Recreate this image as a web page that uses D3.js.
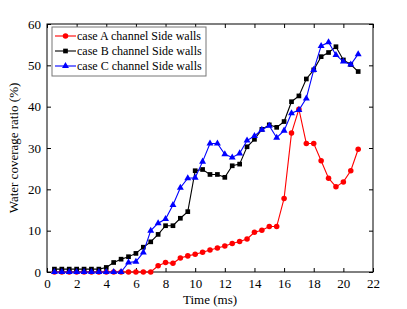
<!DOCTYPE html>
<html>
<head>
<meta charset="utf-8">
<script src="https://cdn.jsdelivr.net/npm/d3@7"></script>
<style>
  body { margin: 0; background: #fff; }
  svg { font-family: "Liberation Serif", "Times New Roman", serif; }
</style>
</head>
<body>
<svg id="chart"></svg>
<script>
const times = [0.5,1,1.5,2,2.5,3,3.5,4,4.5,5,5.5,6,6.5,7,7.5,8,8.5,9,9.5,10,10.5,11,11.5,12,12.5,13,13.5,14,14.5,15,15.5,16,16.5,17,17.5,18,18.5,19,19.5,20,20.5,21]
const caseA = [0,0,0,0,0,0,0,0,0,0,0,0,0,0,1.5,2.3,2.1,3.4,3.9,4.3,4.8,5.3,5.8,6.3,6.9,7.4,8.0,9.6,10.1,11,11,17.8,33.6,39.4,31.1,31.1,26.9,22.7,20.6,21.8,24.5,29.7]
const caseB = [0.7,0.7,0.7,0.7,0.7,0.7,0.7,1.1,2.3,3.1,3.7,4.5,6,7.3,9.1,11.2,11.2,13,14.6,24.5,24.8,23.6,23.6,22.9,25.7,26.1,30.3,32.1,34.5,35.6,35,36.4,41.2,42.6,46.7,48.9,52.1,53.1,54.5,51.3,50.2,48.5]
const caseC = [0,0,0,0,0,0,0,0,0,0,2.3,2.5,4.7,10,11.8,12.8,16.2,20.4,22.7,22.8,26.7,31.1,31.1,28.5,27.7,28.7,31.8,32.9,34.4,35.4,32.5,34.2,38.4,39.2,42,48.9,54.7,55.6,52.5,50.9,50.2,52.7]
const seriesNames = ["case A channel Side walls", "case B channel Side walls", "case C channel Side walls"]
const xTicks = d3.range(0, 23, 2)
const yTicks = d3.range(0, 61, 10)

const W = 407, H = 309
const margin = {top: 24, right: 34, bottom: 37, left: 47}
const width = W - margin.left - margin.right
const height = H - margin.top - margin.bottom

const svg = d3.select("#chart").attr("width", W).attr("height", H)
const g = svg.append("g").attr("transform", `translate(${margin.left},${margin.top})`)

const x = d3.scaleLinear().domain([0, 22]).range([0, width])
const y = d3.scaleLinear().domain([0, 60]).range([height, 0])

// axes, ticks inward on all sides
const tick = 4
g.append("g").attr("transform", `translate(0,${height})`)
  .call(d3.axisBottom(x).tickValues(xTicks).tickSizeInner(-tick).tickSizeOuter(0).tickPadding(7))
g.append("g").call(d3.axisTop(x).tickValues(xTicks).tickSizeInner(-tick).tickSizeOuter(0).tickFormat(""))
g.append("g")
  .call(d3.axisLeft(y).tickValues(yTicks).tickSizeInner(-tick).tickSizeOuter(0).tickPadding(6))
g.append("g").attr("transform", `translate(${width},0)`)
  .call(d3.axisRight(y).tickValues(yTicks).tickSizeInner(-tick).tickSizeOuter(0).tickFormat(""))
g.selectAll(".domain").remove()
g.selectAll(".tick line").attr("stroke", "#000").attr("stroke-width", 1)
g.selectAll(".tick text").attr("font-size", 13).attr("fill", "#000")
  .attr("font-family", "Liberation Serif")

g.append("rect").attr("width", width).attr("height", height)
  .attr("fill", "none").attr("stroke", "#000").attr("stroke-width", 1)

// labels
svg.append("text")
  .attr("x", margin.left + width / 2).attr("y", H - 5)
  .attr("text-anchor", "middle").attr("font-size", 13)
  .text("Time (ms)")
svg.append("text")
  .attr("transform", `translate(18,${margin.top + height / 2}) rotate(-90)`)
  .attr("text-anchor", "middle").attr("font-size", 13)
  .text("Water coverage ratio (%)")

const series = [
  {values: caseA, color: "#ff0000", shape: d3.symbolCircle, size: 24},
  {values: caseB, color: "#000000", shape: d3.symbolSquare, size: 22},
  {values: caseC, color: "#0000ff", shape: d3.symbolTriangle, size: 21}
]

const line = d3.line().x((d, i) => x(times[i])).y(d => y(d))

series.forEach(s => {
  g.append("path").datum(s.values)
    .attr("fill", "none").attr("stroke", s.color).attr("stroke-width", 1.1)
    .attr("d", line)
  g.selectAll(null).data(s.values).enter().append("path")
    .attr("transform", (d, i) => `translate(${x(times[i])},${y(d)})`)
    .attr("d", d3.symbol().type(s.shape).size(s.size))
    .attr("fill", s.color)
})

// legend
const lg = g.append("g").attr("transform", "translate(5,3)")
lg.append("rect").attr("width", 154).attr("height", 49)
  .attr("fill", "#fff").attr("stroke", "#777").attr("stroke-width", 1)
series.forEach((s, i) => {
  const ly = 9 + i * 15
  lg.append("line").attr("x1", 3).attr("x2", 24).attr("y1", ly).attr("y2", ly)
    .attr("stroke", s.color).attr("stroke-width", 1.1)
  lg.append("path").attr("transform", `translate(13.5,${ly})`)
    .attr("d", d3.symbol().type(s.shape).size(s.size)).attr("fill", s.color)
  lg.append("text").attr("x", 25).attr("y", ly + 4).attr("font-size", 12)
    .text(seriesNames[i])
})
</script>
</body>
</html>
